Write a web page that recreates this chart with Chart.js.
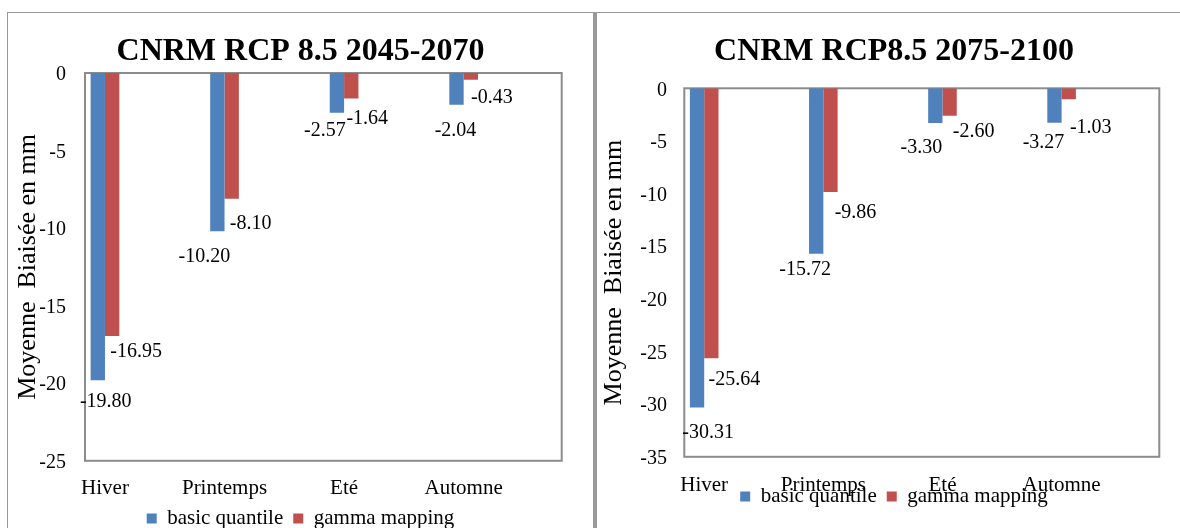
<!DOCTYPE html>
<html>
<head>
<meta charset="utf-8">
<script src="https://cdn.jsdelivr.net/npm/chart.js@4.4.0/dist/chart.umd.min.js"></script>
<style>
  html, body { margin: 0; padding: 0; background: #fff; overflow: hidden; width: 1180px; height: 528px; }
  #cadreG { position: absolute; left: 7px; top: 12px; width: 586px; height: 530px; border-top: 1px solid #999; border-left: 1px solid #999; }
  #cadreD { position: absolute; left: 593px; top: 12px; width: 600px; height: 530px; border-top: 1px solid #999; border-left: 4px solid #999; }
  canvas { position: absolute; }
  #grapheG { left: 8px; top: 13px; }
  #grapheD { left: 597px; top: 13px; }
</style>
</head>
<body>
<div id="cadreG"></div>
<div id="cadreD"></div>
<canvas id="grapheG" width="585" height="526"></canvas>
<canvas id="grapheD" width="594" height="504"></canvas>

<script>
// Données
const saisons = ["Hiver", "Printemps", "Eté", "Automne"];
const graduations2045 = [0, -5, -10, -15, -20, -25];
const graduations2075 = [0, -5, -10, -15, -20, -25, -30, -35];
const basicQuantile2045 = [-19.80, -10.20, -2.57, -2.04];
const gammaMapping2045 = [-16.95, -8.10, -1.64, -0.43];
const basicQuantile2075 = [-30.31, -15.72, -3.30, -3.27];
const gammaMapping2075 = [-25.64, -9.86, -2.60, -1.03];

Chart.defaults.font.family = '"Liberation Serif", "Times New Roman", serif';
Chart.defaults.color = "#000";

// cadre gris autour de la zone de tracé
const cadre = {
  id: "cadre",
  beforeDatasetsDraw(chart) {
    const { ctx, chartArea: a } = chart;
    ctx.save();
    ctx.strokeStyle = "#8c8c8c";
    ctx.lineWidth = 2;
    ctx.strokeRect(a.left, a.top, a.right - a.left, a.bottom - a.top);
    ctx.restore();
  }
};

// valeurs écrites sous les barres (décalages repris de la figure)
const etiquettes = {
  id: "etiquettes",
  afterDatasetsDraw(chart, args, opts) {
    const ctx = chart.ctx;
    ctx.save();
    ctx.font = '20px "Liberation Serif", "Times New Roman", serif';
    ctx.fillStyle = "#000";
    ctx.textAlign = "center";
    ctx.textBaseline = "middle";
    chart.data.datasets.forEach((ds, d) => {
      chart.getDatasetMeta(d).data.forEach((barre, i) => {
        const dec = opts.decalages[d][i];
        ctx.fillText(ds.data[i].y.toFixed(2), barre.x + dec[0], barre.y + dec[1]);
      });
    });
    ctx.restore();
  }
};

function creerGraphique(id, titre, bleu, rouge, graduations, reglages) {
  const ctx = document.getElementById(id).getContext("2d");
  return new Chart(ctx, {
    type: "bar",
    data: {
      datasets: [
        {
          label: "basic quantile",
          data: saisons.map((s, i) => ({ x: i, y: bleu[i] })),
          backgroundColor: "#4F81BD",
          borderWidth: 0
        },
        {
          label: "gamma mapping",
          data: saisons.map((s, i) => ({ x: i, y: rouge[i] })),
          backgroundColor: "#C0504D",
          borderWidth: 0
        }
      ]
    },
    options: {
      responsive: false,
      animation: false,
      categoryPercentage: 0.24,
      barPercentage: 1,
      layout: { padding: 0 },
      scales: {
        x: {
          type: "linear",
          offset: false,
          min: -0.167,
          max: 3.82,
          grid: { display: false, drawTicks: false, offset: false },
          border: { display: false },
          afterBuildTicks: s => { s.ticks = saisons.map((n, i) => ({ value: i })); },
          afterFit: s => { s.height = reglages.hauteurX; },
          ticks: {
            autoSkip: false,
            maxRotation: 0,
            // mirror + padding négatif : les noms de saison ne sont pas rognés par la légende
            mirror: true,
            padding: reglages.padX,
            font: { size: 21 },
            callback: (v, i) => saisons[i]
          }
        },
        y: {
          min: Math.min(...graduations),
          max: Math.max(...graduations),
          grid: { display: false, drawTicks: false },
          border: { display: false },
          afterBuildTicks: s => { s.ticks = graduations.map(v => ({ value: v })); },
          afterFit: s => { s.width = reglages.largeurY; },
          ticks: { padding: reglages.padY, labelOffset: 2, font: { size: 20 } },
          title: {
            display: true,
            text: "Moyenne  Biaisée en mm",
            font: { size: 26 },
            padding: { top: reglages.padTitreY, bottom: 0 }
          }
        },
        droite: {
          type: "linear",
          position: "right",
          display: true,
          grid: { display: false, drawTicks: false },
          border: { display: false },
          ticks: { display: false },
          afterFit: s => { s.width = reglages.margeDroite; }
        }
      },
      plugins: {
        title: {
          display: true,
          text: titre,
          font: { size: 32, weight: "bold" },
          padding: { top: 20, bottom: reglages.padTitre }
        },
        legend: {
          position: "bottom",
          labels: { boxWidth: 10, boxHeight: 10, font: { size: 21 } }
        },
        tooltip: { enabled: false },
        etiquettes: { decalages: reglages.decalages }
      }
    },
    plugins: [cadre, etiquettes]
  });
}

creerGraphique("grapheG", "CNRM RCP 8.5 2045-2070", basicQuantile2045, gammaMapping2045, graduations2045, {
  hauteurX: 37.2, padX: -40.5, largeurY: 77, padY: 19, padTitreY: 5, margeDroite: 31.3, padTitre: 1.6,
  decalages: [
    [[8, 22], [-13, 26], [-12, 18], [-1, 26]],
    [[24, 16], [19, 25], [16, 20], [21, 18]]
  ]
});

creerGraphique("grapheD", "CNRM RCP8.5 2075-2100", basicQuantile2075, gammaMapping2075, graduations2075, {
  hauteurX: 19.2, padX: -41, largeurY: 87.3, padY: 17.3, padTitreY: 1.4, margeDroite: 31.7, padTitre: 16.9,
  decalages: [
    [[11, 25], [-11, 16], [-14, 25], [-11, 20]],
    [[23, 21], [25, 21], [24, 16], [22, 29]]
  ]
});
</script>
</body>
</html>
